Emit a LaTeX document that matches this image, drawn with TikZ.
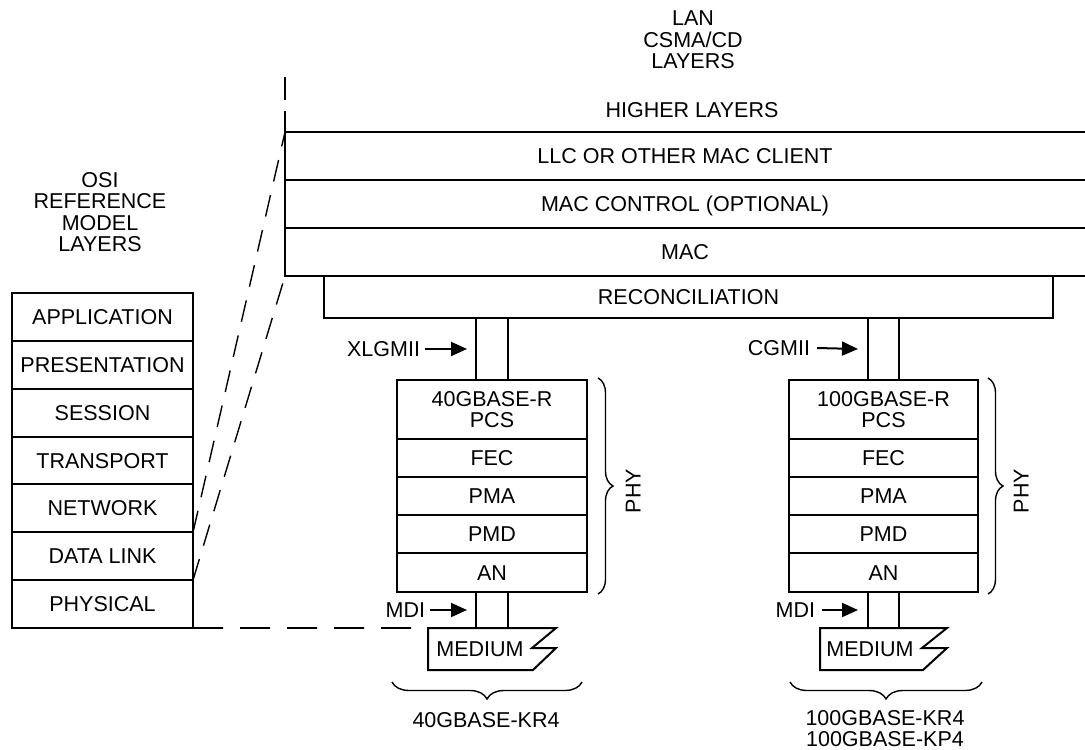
\documentclass[tikz,border=0pt]{standalone}
\usepackage{fontspec}
\setmainfont{Liberation Sans}
\usetikzlibrary{arrows.meta,decorations.pathreplacing}
\newcommand{\fsz}{\fontsize{21.5}{21.5}\selectfont}
\begin{document}
\begin{tikzpicture}[x=1pt,y=-1pt,
  lbl/.style={font=\fsz, inner sep=0pt, outer sep=0pt, text height=15pt, text depth=0pt},
  mlbl/.style={font=\fsz, inner sep=0pt, outer sep=0pt, align=center},
  rowbox/.style={lbl, minimum width=800, minimum height=48},
  cell/.style={lbl, draw, line width=2pt, minimum width=190},
  pcscell/.style={mlbl, draw, line width=2pt, minimum width=190, minimum height=59},
  osicell/.style={lbl, draw, line width=2pt, minimum width=181, minimum height=47.857},
  stub/.style={draw, line width=2pt, inner sep=0pt, outer sep=0pt},
  solid2/.style={line width=2pt},
  vdash/.style={line width=2pt, dash pattern=on 23pt off 11pt},
  ddash/.style={line width=1.4pt, dash pattern=on 22pt off 14pt},
  hdash/.style={line width=1.6pt, dash pattern=on 30pt off 17pt},
  arr/.style={line width=2pt, -{Triangle[length=16pt,width=14pt]}},
  brc/.style={line width=1.4pt, decorate, decoration={brace, amplitude=15pt}},
  bbrc/.style={line width=1.4pt, decorate, decoration={brace, amplitude=17pt}}
]
\useasboundingbox (0,0) rectangle (1085,750);

% ---- top labels
\node[mlbl] (lan) at (693,40) {LAN\\CSMA/CD\\LAYERS};
\node[lbl] (hl) at (692,109.5) {HIGHER LAYERS};

% ---- upper layer rows (open to the right)
\node[rowbox] (llc) at (685,156) {LLC OR OTHER MAC CLIENT};
\node[rowbox] (macctl) at (685,204) {MAC CONTROL (OPTIONAL)};
\node[rowbox] (mac) at (685,252) {MAC};
\draw[solid2] (llc.north east) -- (llc.north west) -- (mac.south west) -- (mac.south east);
\draw[solid2] (macctl.north west) -- (macctl.north east);
\draw[solid2] (mac.north west) -- (mac.north east);
\coordinate (vtop) at (285,77);
\draw[vdash] (vtop) -- (llc.north west);

% ---- reconciliation
\node[cell, minimum width=729, minimum height=42] (rec) at (688.5,297) {RECONCILIATION};

% ---- OSI stack
\node[mlbl] (osil) at (100,212) {OSI\\REFERENCE\\MODEL\\LAYERS};
\foreach [count=\i] \n/\t in {app/APPLICATION, pres/PRESENTATION, sess/SESSION,
    trans/TRANSPORT, net/NETWORK, dl/DATA LINK, phys/PHYSICAL}
  \node[osicell] (\n) at (102.5,{293+47.857*(\i-0.5)}) {\t};

% ---- left PHY column (40G)
\node[stub, minimum width=32, minimum height=62] (xlg) at (492,349) {};
\node[pcscell] (pcsL) at (492,409.5) {40GBASE-R\\PCS};
\node[cell, minimum height=38] (fecL) at (492,458) {FEC};
\node[cell, minimum height=38] (pmaL) at (492,496) {PMA};
\node[cell, minimum height=38] (pmdL) at (492,534) {PMD};
\node[cell, minimum height=39] (anL) at (492,572.5) {AN};
\node[stub, minimum width=32, minimum height=36] (mdiL) at (492,610) {};
\coordinate (m1a) at (428,628);
\draw[solid2] (m1a) -- (556,628) -- (532,648) -- (556,648) -- (533,670) -- (428,670) -- cycle;
\node[lbl] (med1) at (480,649) {MEDIUM};

\node[lbl, anchor=east] (xlgl) at (420,349) {XLGMII};
\draw[arr] ([xshift=5pt]xlgl.east) -- ([xshift=-9pt]xlg.west);
\node[lbl, anchor=east] (mdil1) at (425,610) {MDI};
\draw[arr] ([xshift=5pt]mdil1.east) -- ([xshift=-9pt]mdiL.west);

\draw[brc] ([shift={(11,-2)}]pcsL.north east) -- ([shift={(11,2)}]anL.south east);
\node[lbl, rotate=90] (phyL) at (633,491) {PHY};
\draw[bbrc] (582,682) -- (392,682);
\node[lbl] (kr4) at (486,719.5) {40GBASE-KR4};

% ---- right PHY column (100G)
\node[stub, minimum width=31, minimum height=62] (cgm) at (883.5,349) {};
\node[pcscell, minimum width=189] (pcsR) at (883.5,409.5) {100GBASE-R\\PCS};
\node[cell, minimum width=189, minimum height=38] (fecR) at (883.5,458) {FEC};
\node[cell, minimum width=189, minimum height=38] (pmaR) at (883.5,496) {PMA};
\node[cell, minimum width=189, minimum height=38] (pmdR) at (883.5,534) {PMD};
\node[cell, minimum width=189, minimum height=39] (anR) at (883.5,572.5) {AN};
\node[stub, minimum width=31, minimum height=36] (mdiR) at (883.5,610) {};
\coordinate (m2a) at (820,628);
\draw[solid2] (m2a) -- (947,628) -- (922,648) -- (947,648) -- (923,670) -- (820,670) -- cycle;
\node[lbl] (med2) at (870,649) {MEDIUM};

\node[lbl, anchor=east] (cgml) at (810,348) {CGMII};
\draw[arr] ([xshift=7pt]cgml.east) -- ([xshift=-10pt]cgm.west);
\node[lbl, anchor=east] (mdil2) at (815,610) {MDI};
\draw[arr] ([xshift=7pt]mdil2.east) -- ([xshift=-10pt]mdiR.west);

\draw[brc] ([shift={(10,-2)}]pcsR.north east) -- ([shift={(10,2)}]anR.south east);
\node[lbl, rotate=90] (phyR) at (1021,491) {PHY};
\draw[bbrc] (982,682) -- (790,682);
\node[mlbl] (kr4b) at (885,728.5) {100GBASE-KR4\\100GBASE-KP4};

% ---- OSI mapping dashed lines
\draw[ddash] (dl.north east) -- (llc.north west);
\draw[ddash] (dl.south east) -- (mac.south west);
\draw[hdash] (phys.south east) -- (m1a);
\end{tikzpicture}
\end{document}
